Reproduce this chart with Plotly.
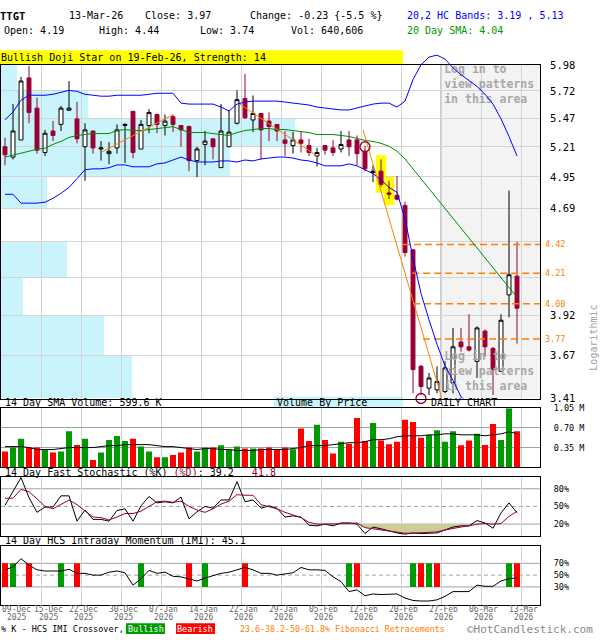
import math
import plotly.graph_objects as go

W, H = 600, 640
MONO = "DejaVu Sans Mono"

# ---------------- data: TTGT daily, 09-Dec-2025 .. 13-Mar-2026 ----------------
opens = [5.21, 5.12, 5.27, 5.85, 5.56, 5.16, 5.35, 5.41, 5.54, 5.46, 5.21, 5.35, 5.19, 5.15, 5.20, 5.40,
         5.53, 5.19, 5.40, 5.50, 5.40, 5.48, 5.40, 5.39, 5.09, 5.23, 5.28, 5.03, 5.21, 5.42, 5.65, 5.45,
         5.51, 5.44, 5.41, 5.27, 5.22, 5.27, 5.22, 5.13, 5.22, 5.20, 5.19, 5.27, 5.27, 5.17, 4.99, 5.00,
         4.82, 4.80, 4.72, 4.38, 3.60, 3.47, 3.46, 3.45, 3.50, 3.75, 3.72, 3.63, 3.82, 3.71, 3.57, 4.06, 4.19]
highs = [5.29, 5.60, 5.86, 5.97, 5.66, 5.36, 5.44, 5.58, 5.82, 5.62, 5.42, 5.35, 5.26, 5.25, 5.41, 5.42,
         5.53, 5.45, 5.55, 5.51, 5.50, 5.50, 5.40, 5.40, 5.21, 5.35, 5.28, 5.60, 5.54, 5.73, 5.89, 5.68,
         5.51, 5.52, 5.41, 5.35, 5.34, 5.35, 5.28, 5.20, 5.22, 5.27, 5.35, 5.35, 5.31, 5.22, 5.05, 5.10,
         4.92, 4.96, 4.75, 4.38, 3.61, 3.56, 3.60, 3.63, 3.84, 3.84, 3.93, 3.85, 3.83, 3.72, 3.93, 4.84, 4.44]
lows = [5.05, 5.10, 5.27, 5.42, 5.15, 5.13, 5.26, 5.35, 5.54, 5.24, 4.92, 5.15, 5.09, 5.06, 5.15, 5.07,
        5.11, 5.19, 5.33, 5.33, 5.31, 5.34, 5.21, 5.00, 4.95, 5.05, 5.10, 5.03, 5.21, 5.41, 5.46, 5.34,
        5.10, 5.26, 5.26, 5.13, 5.15, 5.16, 5.13, 5.04, 5.14, 5.13, 5.16, 5.13, 5.05, 5.00, 4.91, 4.87,
        4.77, 4.76, 4.33, 3.44, 3.43, 3.43, 3.44, 3.44, 3.44, 3.69, 3.69, 3.53, 3.66, 3.43, 3.57, 3.91, 3.74]
closes = [5.14, 5.35, 5.82, 5.52, 5.18, 5.33, 5.31, 5.56, 5.56, 5.28, 5.36, 5.20, 5.20, 5.17, 5.36, 5.41,
          5.16, 5.41, 5.52, 5.41, 5.44, 5.41, 5.36, 5.09, 5.19, 5.26, 5.21, 5.35, 5.34, 5.64, 5.47, 5.51,
          5.36, 5.39, 5.35, 5.24, 5.27, 5.24, 5.16, 5.16, 5.18, 5.16, 5.23, 5.21, 5.15, 5.02, 5.00, 4.89,
          4.81, 4.77, 4.36, 3.58, 3.48, 3.53, 3.51, 3.59, 3.72, 3.72, 3.70, 3.84, 3.72, 3.58, 3.89, 4.20, 3.97]

sma20 = [5.120, 5.137, 5.154, 5.171, 5.188, 5.197, 5.231, 5.257, 5.292, 5.310, 5.318, 5.327, 5.327, 5.327,
         5.354, 5.363, 5.354, 5.354, 5.363, 5.372, 5.380, 5.389, 5.363, 5.336, 5.336, 5.336, 5.327, 5.318,
         5.310, 5.336, 5.354, 5.363, 5.372, 5.372, 5.363, 5.363, 5.354, 5.345, 5.336, 5.318, 5.318, 5.318,
         5.310, 5.301, 5.283, 5.266, 5.257, 5.240, 5.214, 5.171, 5.104, 5.020, 4.929, 4.849, 4.769, 4.691,
         4.615, 4.539, 4.465, 4.392, 4.319, 4.249, 4.179, 4.110, 4.043]
hc_upper = [5.452, 5.524, 5.635, 5.682, 5.682, 5.682, 5.691, 5.710, 5.729, 5.719, 5.691, 5.682, 5.673, 5.673,
            5.682, 5.682, 5.682, 5.682, 5.691, 5.701, 5.701, 5.701, 5.607, 5.598, 5.598, 5.598, 5.598, 5.570,
            5.533, 5.598, 5.617, 5.626, 5.626, 5.626, 5.626, 5.617, 5.607, 5.598, 5.589, 5.570, 5.561, 5.552,
            5.543, 5.543, 5.561, 5.580, 5.598, 5.607, 5.607, 5.570, 5.626, 5.834, 5.980, 6.059, 6.079, 6.039,
            5.950, 5.882, 5.824, 5.767, 5.691, 5.598, 5.461, 5.301, 5.130]
hc_lower = [4.809, 4.809, 4.738, 4.738, 4.738, 4.746, 4.777, 4.817, 4.865, 4.937, 5.012, 5.020, 5.020, 5.029,
            5.053, 5.053, 5.037, 5.037, 5.037, 5.062, 5.070, 5.095, 5.120, 5.095, 5.078, 5.078, 5.078, 5.087,
            5.087, 5.078, 5.095, 5.087, 5.104, 5.112, 5.120, 5.120, 5.112, 5.095, 5.087, 5.070, 5.045, 5.045,
            5.045, 5.062, 5.045, 5.012, 4.979, 4.929, 4.865, 4.825, 4.615, 4.319, 4.070, 3.893, 3.736, 3.603,
            3.515, 3.42, 3.38, 3.33, 3.29, 3.26, 3.23, 3.21, 3.19]

volumes_k = [280, 350, 507, 350, 350, 310, 262, 280, 642, 397, 507, 128, 262, 484, 554, 467, 507, 367, 280,
             175, 175, 216, 262, 350, 280, 350, 350, 391, 310, 367, 332, 332, 332, 350, 310, 350, 321, 688,
             467, 758, 484, 245, 455, 420, 875, 467, 787, 478, 408, 455, 846, 805, 525, 572, 659, 455, 642,
             391, 478, 595, 397, 770, 484, 1050, 641]
vol_sma_k = [367, 367, 367, 350, 315, 315, 315, 332, 350, 350, 350, 350, 367, 385, 385, 402, 402, 402, 402,
             385, 367, 367, 350, 332, 315, 332, 332, 315, 315, 297, 297, 297, 315, 315, 315, 315, 332, 350,
             385, 385, 385, 402, 420, 437, 437, 455, 490, 490, 507, 542, 560, 560, 560, 577, 577, 595, 595,
             577, 577, 577, 560, 577, 595, 630, 600]

stoch_k = [52, 75, 99, 65, 40, 49, 49, 68, 68, 25, 44, 28, 28, 25, 43, 46, 25, 51, 67, 56, 58, 56, 66, 29,
           41, 50, 47, 61, 61, 92, 58, 61, 47, 51, 47, 32, 34, 32, 18, 17, 20, 17, 22, 22, 20, 4, 15, 12,
           8, 5, 3, 5, 4, 5, 5, 10, 15, 17, 17, 26, 22, 13, 39, 56, 39.2]
stoch_d = [64, 64, 79, 75, 63, 50, 46, 53, 61, 53, 42, 32, 31, 27, 32, 38, 38, 42, 50, 58, 59, 57, 59, 50,
           44, 40, 46, 54, 59, 70, 69, 69, 53, 50, 46, 40, 35, 31, 23, 20, 20, 20, 21, 21, 22, 14, 12, 10,
           8, 5.5, 4.5, 4.5, 5, 5.5, 6.7, 10, 13, 15, 17, 20, 21, 20, 21, 33, 41.8]
imi = [59, 64, 78, 67, 59, 57, 57, 57, 60, 53, 53, 50, 50, 55, 57, 54, 33, 44, 58, 53, 55, 48, 47, 43, 40,
       45, 49, 53, 55, 59, 63, 59, 53, 53, 50, 52, 54, 63, 59, 59, 58, 47, 39, 22, 25, 15, 18, 17, 18, 18,
       11, 7, 6, 6, 8, 14, 22, 22, 22, 33, 31, 31, 40, 44, 45.1]
imi_cross_idx = [0, 1, 3, 7, 9, 17, 23, 25, 30, 43, 44, 51, 52, 53, 54, 63, 64]
imi_cross_type = ["bear", "bull", "bear", "bull", "bear", "bull", "bear", "bull", "bear",
                  "bull", "bear", "bull", "bear", "bull", "bear", "bull", "bear"]

# price grid (equal price steps on a log axis) and volume-by-price per grid bin (M shares)
price_grid = [3.410, 3.667, 3.924, 4.181, 4.438, 4.695, 4.952, 5.209, 5.466, 5.723, 5.980]
price_grid_text = ["3.41", "3.67", "3.92", "", "", "4.69", "4.95", "5.21", "5.47", "5.72", "5.98"]
vbp_volume_m = [6.51, 5.12, 1.09, 3.28, 0.0, 2.29, 11.39, 14.62, 4.33, 0.80]
VBP_AXIS_MAX = 26.8   # volume-by-price value reaching the right edge of the price panel

fib_levels = [4.42, 4.21, 4.00, 3.77]
fib_start = [49.75, 50.9, 51.0, 52.25]
trend_x = [[12.0, 21.0], [29.3, 39.0], [44.75, 54.6]]
trend_y = [[5.16, 5.50], [5.60, 5.13], [5.36, 3.41]]
highlight_idx = [47, 48]
circle_idx = [45, 52]
circle_price = [5.21, 3.41]

first_label = ["09-Dec", "2025"]
grid_labels = ["15-Dec", "22-Dec", "30-Dec", "07-Jan", "14-Jan", "22-Jan", "29-Jan",
               "05-Feb", "12-Feb", "20-Feb", "27-Feb", "06-Mar", "13-Mar"]
grid_years = ["2025", "2025", "2025", "2026", "2026", "2026", "2026",
              "2026", "2026", "2026", "2026", "2026", "2026"]

# ---------------- figure ----------------
n = len(closes)
xi = list(range(n))
X0, X1 = -0.5, 66.875
grid_x = [4.5 + 5 * k for k in range(len(grid_labels))]
label_shift = [0.9] + [0.3] * (len(grid_labels) - 1)

def dom_y(top, bot):
    return [1 - bot / H, 1 - top / H]

XDOM = [1 / W, 540 / W]
RED = "#990033"
ORANGE = "#ff8000"

fig = go.Figure()

# "log in" texts under the candles
fig.add_trace(go.Scatter(x=[54.9, 54.9], y=[5.776, 3.567], mode="text",
                         text=["Log in to<br>view patterns<br>in this area"] * 2,
                         textposition="middle right",
                         textfont=dict(family=MONO, size=11.5, color="#a8a8a8", weight="bold"),
                         hoverinfo="skip", xaxis="x", yaxis="y"))

for lvl, st in zip(fib_levels, fib_start):
    fig.add_trace(go.Scatter(x=[st, X1], y=[lvl, lvl], mode="lines",
                             line=dict(color=ORANGE, width=1.5, dash="7px,4px"),
                             hoverinfo="skip", xaxis="x", yaxis="y"))

fig.add_trace(go.Candlestick(x=xi, open=opens, high=highs, low=lows, close=closes,
                             increasing=dict(line=dict(color="black", width=1), fillcolor="white"),
                             decreasing=dict(line=dict(color=RED, width=1), fillcolor=RED),
                             whiskerwidth=0, xaxis="x", yaxis="y", hoverinfo="skip"))

fig.add_trace(go.Scatter(x=xi, y=sma20, mode="lines", line=dict(color="#008a00", width=1),
                         xaxis="x", yaxis="y", hoverinfo="skip"))
fig.add_trace(go.Scatter(x=xi, y=hc_lower, mode="lines", line=dict(color="#0000ff", width=1),
                         xaxis="x", yaxis="y", hoverinfo="skip"))
fig.add_trace(go.Scatter(x=xi, y=hc_upper, mode="lines", line=dict(color="#0000ff", width=1),
                         xaxis="x5", yaxis="y5", hoverinfo="skip"))
for tx, ty in zip(trend_x, trend_y):
    fig.add_trace(go.Scatter(x=tx, y=ty, mode="lines", line=dict(color=ORANGE, width=1),
                             xaxis="x", yaxis="y", hoverinfo="skip"))
fig.add_trace(go.Scatter(x=circle_idx, y=circle_price, mode="markers", cliponaxis=False,
                         marker=dict(symbol="circle-open", size=10, color=RED, line=dict(width=1.3)),
                         xaxis="x", yaxis="y", hoverinfo="skip"))

# volume
vcol = ["#009900" if c >= o else "#ff0000" for o, c in zip(opens, closes)]
fig.add_trace(go.Bar(x=xi, y=volumes_k, marker=dict(color=vcol, line=dict(width=0)), width=0.75,
                     xaxis="x2", yaxis="y2", hoverinfo="skip"))
fig.add_trace(go.Scatter(x=xi, y=vol_sma_k, mode="lines", line=dict(color="black", width=1),
                         xaxis="x2", yaxis="y2", hoverinfo="skip"))

# stochastic
fig.add_trace(go.Scatter(x=xi, y=[20] * n, mode="lines", line=dict(width=0),
                         xaxis="x3", yaxis="y3", hoverinfo="skip"))
fig.add_trace(go.Scatter(x=xi, y=[min(d, 20) for d in stoch_d], mode="lines", line=dict(width=0),
                         fill="tonexty", fillcolor="#cccc99", xaxis="x3", yaxis="y3", hoverinfo="skip"))
fig.add_trace(go.Scatter(x=xi, y=stoch_k, mode="lines", line=dict(color="black", width=1),
                         xaxis="x3", yaxis="y3", hoverinfo="skip"))
fig.add_trace(go.Scatter(x=xi, y=stoch_d, mode="lines", line=dict(color=RED, width=1),
                         xaxis="x3", yaxis="y3", hoverinfo="skip"))

# IMI
ccol = ["#009900" if t == "bull" else "#ff0000" for t in imi_cross_type]
fig.add_trace(go.Bar(x=imi_cross_idx, y=[40] * len(imi_cross_idx), base=[30] * len(imi_cross_idx),
                     marker=dict(color=ccol, line=dict(width=0)), width=0.75,
                     xaxis="x4", yaxis="y4", hoverinfo="skip"))
fig.add_trace(go.Scatter(x=xi, y=imi, mode="lines", line=dict(color="black", width=1),
                         xaxis="x4", yaxis="y4", hoverinfo="skip"))

# ---------------- axes ----------------
GRID = "#d3d3d3"
HGRID = "#a0a0a0"
def xax(anchor, **kw):
    d = dict(domain=XDOM, range=[X0, X1], anchor=anchor, tickvals=grid_x, showticklabels=False,
             showgrid=True, gridcolor=GRID, gridwidth=1, zeroline=False, showline=True,
             linecolor="black", linewidth=1, mirror=True, ticks="", fixedrange=True)
    d.update(kw)
    return d

lo, hi = math.log10(price_grid[0]), math.log10(price_grid[-1])
kpx = (hi - lo) / 340.0
layout = dict(
    width=W, height=H, autosize=False, margin=dict(l=0, r=0, t=0, b=0, pad=0),
    paper_bgcolor="white", plot_bgcolor="rgba(0,0,0,0)", showlegend=False,
    font=dict(family=MONO, size=10, color="black"), barmode="overlay",
    xaxis=xax("y", rangeslider=dict(visible=False)),
    yaxis=dict(domain=dom_y(60, 400), type="log", range=[lo, hi], tickvals=price_grid,
               ticktext=price_grid_text, side="right", showgrid=True, gridcolor=GRID,
               showline=True, linecolor="black", mirror=True, zeroline=False, ticks="",
               ticklabelstandoff=7, tickfont=dict(family=MONO, size=10.5, color="black"),
               anchor="x", fixedrange=True),
    xaxis2=xax("y2"),
    yaxis2=dict(domain=dom_y(410, 470), range=[0, 1050], tickvals=[350, 700, 1050],
                ticktext=["0.35 M", "0.70 M", "1.05 M"], side="right", showgrid=True,
                gridcolor=HGRID, showline=True, linecolor="black", mirror=True, zeroline=False,
                ticks="", ticklabelstandoff=11, tickfont=dict(family=MONO, size=8.5),
                anchor="x2", fixedrange=True),
    xaxis3=xax("y3"),
    yaxis3=dict(domain=dom_y(480, 540), range=[0, 100], tickvals=[20, 50, 80],
                ticktext=["20%", "50%", "80%"], side="right", showgrid=False, showline=True,
                linecolor="black", mirror=True, zeroline=False, ticks="", ticklabelstandoff=11,
                tickfont=dict(family=MONO, size=8.5), anchor="x3", fixedrange=True),
    xaxis4=xax("y4"),
    yaxis4=dict(domain=dom_y(550, 610), range=[0, 100], tickvals=[30, 50, 70],
                ticktext=["30%", "50%", "70%"], side="right", showgrid=False, showline=True,
                linecolor="black", mirror=True, zeroline=False, ticks="", ticklabelstandoff=11,
                tickfont=dict(family=MONO, size=8.5), anchor="x4", fixedrange=True),
    xaxis5=dict(domain=XDOM, range=[X0, X1], anchor="y5", visible=False, fixedrange=True),
    yaxis5=dict(domain=dom_y(45, 400), type="log", range=[lo, hi + 15 * kpx], anchor="x5",
                visible=False, fixedrange=True),
)

shapes = []
# grey "log in" area
shapes.append(dict(type="rect", xref="x", yref="y domain", x0=54.5, x1=X1, y0=0, y1=1,
                   fillcolor="#f3f3f3", line=dict(width=0), layer="below"))
# volume by price (bar length as a fraction of the price panel width)
for k, v in enumerate(vbp_volume_m):
    if v > 0:
        shapes.append(dict(type="rect", xref="x domain", yref="y", x0=0, x1=v / VBP_AXIS_MAX,
                           y0=price_grid[k], y1=price_grid[k + 1], fillcolor="#c9f4fc",
                           line=dict(width=0), layer="below"))
# pattern highlights
for i in highlight_idx:
    shapes.append(dict(type="rect", xref="x", yref="y", x0=i - 0.65, x1=i + 0.65,
                       y0=lows[i] * 0.99, y1=highs[i] * 1.007, fillcolor="#ffff00",
                       line=dict(width=0), layer="below"))
shapes.append(dict(type="line", xref="x", yref="y domain", x0=54.5, x1=54.5, y0=0, y1=1,
                   line=dict(color="#999999", width=1), layer="below"))
# oscillator reference lines
for xr, yr, vals in (("x3", "y3", (20, 50, 80)), ("x4", "y4", (30, 50, 70))):
    for v in vals:
        shapes.append(dict(type="line", xref=xr, yref=yr, x0=X0, x1=X1, y0=v, y1=v, layer="below",
                           line=dict(color=HGRID, width=1, dash="4px,3px" if v == 50 else "solid")))
# header yellow bar, volume-by-price label box, legend boxes
def prect(x0, x1, y0, y1, col):
    shapes.append(dict(type="rect", xref="paper", yref="paper", x0=x0 / W, x1=x1 / W,
                       y0=1 - y1 / H, y1=1 - y0 / H, fillcolor=col, line=dict(width=0), layer="below"))
prect(0, 403, 45, 59, "#ffff00")
prect(274, 403, 398, 409, "#c9f4fc")
prect(126, 165, 629, 640, "#009900")
prect(176, 215, 629, 640, "#ff0000")
layout["shapes"] = shapes

ann = []
def txt(x, y, s, size=10, color="black", anchor="left", **kw):
    ann.append(dict(x=x / W, y=1 - y / H, xref="paper", yref="paper", text=s, showarrow=False,
                    xanchor=anchor, yanchor="middle", borderpad=0,
                    font=dict(family=MONO, size=size, color=color), **kw))

txt(-1, 10, "<b>TTGT</b>", size=10.5)
txt(68, 10, "13-Mar-26")
txt(144, 10, "Close: 3.97")
txt(249, 10, "Change: -0.23 {-5.5 %}")
txt(406, 10, "20,2 HC Bands: 3.19 , 5.13", color="#0000ff")
txt(3, 25, "Open: 4.19")
txt(98, 25, "High: 4.44")
txt(199, 25, "Low: 3.74")
txt(290, 25, "Vol: 640,606")
txt(406, 25, "20 Day SMA: 4.04", color="#009900")
txt(0, 52, "Bullish Doji Star on 19-Feb-26, Strength: 14")
for lvl in fib_levels:
    ann.append(dict(x=544 / W, y=math.log10(lvl), xref="paper", yref="y", text=f"{lvl:.2f}",
                    showarrow=False, xanchor="left", yanchor="middle", borderpad=0,
                    font=dict(family=MONO, size=8.5, color=ORANGE)))
txt(594, 338, "Logarithmic", color="#a0a0a0", anchor="center", textangle=-90)
txt(4, 404, "14 Day SMA Volume: 599.6 K")
txt(276, 404, "Volume By Price")
txt(430, 404, "DAILY CHART")
txt(4, 475, "14 Day Fast Stochastic (%K) <span style='color:#990033'>(%D)</span>: 39.2"
            "&nbsp;&nbsp;&nbsp;<span style='color:#990033'>41.8</span>")
txt(4, 545, "14 Day HCS Intraday Momentum (IMI): 45.1")
# date labels (two rows)
txt(1, 615.5, first_label[0], size=8, color="#666666")
txt(6, 623.5, first_label[1], size=8, color="#666666")
for gx, sh, lab, yr in zip(grid_x, label_shift, grid_labels, grid_years):
    for row_y, s in ((615.5, lab), (623.5, yr)):
        ann.append(dict(x=gx + sh, y=1 - row_y / H, xref="x4", yref="paper", text=s,
                        showarrow=False, xanchor="center", yanchor="middle", borderpad=0,
                        font=dict(family=MONO, size=8, color="#666666")))
# footer legend
txt(0, 634.5, "% K - HCS IMI Crossover,", size=8.5)
txt(145.5, 634.5, "Bullish", size=8.5, color="white", anchor="center")
txt(195.5, 634.5, "Bearish", size=8.5, color="white", anchor="center")
txt(239, 634.5, "23.6-38.2-50-61.8% Fibonacci Retracements", size=8.3, color=ORANGE)
txt(466, 635.5, "©HotCandlestick.com", size=11, color="#888888")
layout["annotations"] = ann

fig.update_layout(**layout)
fig.write_html("out.html", include_plotlyjs=True, config=dict(staticPlot=True),
               post_script="document.body.style.margin='0';document.body.style.overflow='hidden';")
